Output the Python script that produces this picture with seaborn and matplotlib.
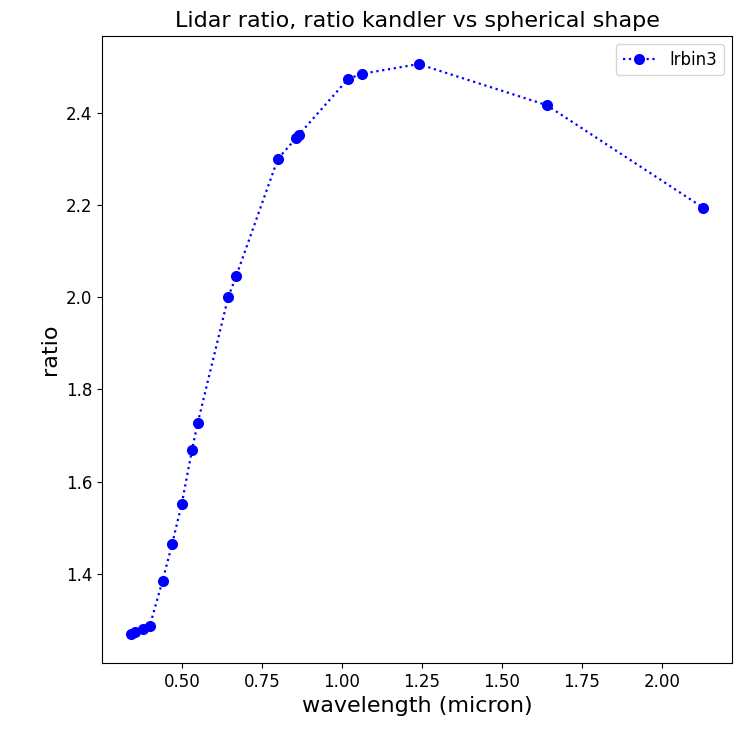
import matplotlib
matplotlib.use("Agg")
import matplotlib.pyplot as plt
import seaborn as sns
import pandas as pd

wavelength = [0.34, 0.355, 0.38, 0.40, 0.44, 0.47, 0.50, 0.532, 0.55, 0.645,
              0.67, 0.80, 0.858, 0.865, 1.02, 1.064, 1.24, 1.64, 2.13]
ratio = [1.268, 1.274, 1.279, 1.287, 1.385, 1.465, 1.552, 1.669, 1.728, 2.000,
         2.046, 2.300, 2.346, 2.352, 2.474, 2.485, 2.506, 2.417, 2.194]
series_name = "lrbin3"

df = pd.DataFrame({"wavelength": wavelength, "ratio": ratio})

plt.rcParams['font.family'] = ['DejaVu Sans']
fig = plt.figure(figsize=(7.39, 7.33), dpi=100)
ax = fig.add_axes([0.138, 0.0955, 0.8525, 0.856])
sns.lineplot(data=df, x="wavelength", y="ratio", ax=ax, color="blue",
             linestyle=":", linewidth=1.6, marker="o", markersize=8, markeredgewidth=0,
             label=series_name, estimator=None, sort=False)
ax.set_title("Lidar ratio, ratio kandler vs spherical shape", fontsize=16)
ax.set_xlabel("wavelength (micron)", fontsize=16)
ax.set_ylabel("ratio", fontsize=16)
ax.tick_params(labelsize=12)
ax.legend(loc="upper right", fontsize=12)
fig.savefig("out.png", dpi=100)
